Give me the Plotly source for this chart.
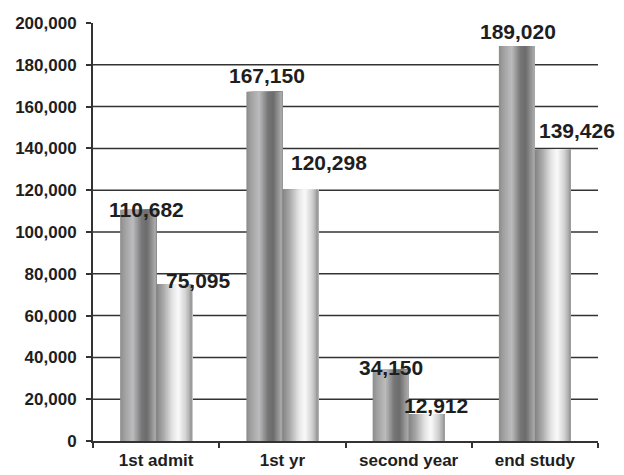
import plotly.graph_objects as go

# ---- data ----
categories = ["1st admit", "1st yr", "second year", "end study"]
series_a = [110682, 167150, 34150, 189020]   # dark cylinders
series_b = [75095, 120298, 12912, 139426]    # light cylinders
y_ticks = [0, 20000, 40000, 60000, 80000, 100000, 120000, 140000, 160000, 180000, 200000]
y_tick_text = [f"{v:,}" for v in y_ticks]

# pixel nudges for the value labels (dx, dy), series a then series b
nudge_a = [(8, -13), (3, 3), (0, -11), (1, 1)]
nudge_b = [(24, -10), (29, 14), (9, -5), (24, 6)]

# ---- styling ----
BAR_W = 0.285          # bar width in category units
STRIPES = 24           # stripes used to fake the cylinder shading
FONT = "Liberation Sans, Arial, sans-serif"
INK = "#1e1e1e"

dark_stops = [(0.0, (140, 140, 140)), (0.12, (160, 160, 160)), (0.35, (188, 188, 190)),
              (0.6, (118, 118, 118)), (0.75, (108, 108, 108)), (0.9, (150, 150, 150)),
              (1.0, (170, 170, 170))]
light_stops = [(0.0, (130, 130, 130)), (0.2, (168, 168, 168)), (0.45, (228, 228, 228)),
               (0.62, (250, 250, 250)), (0.82, (210, 210, 210)), (1.0, (150, 150, 150))]


def shade(stops, t):
    for (p0, c0), (p1, c1) in zip(stops, stops[1:]):
        if p0 <= t <= p1:
            f = (t - p0) / (p1 - p0) if p1 > p0 else 0
            r, g, b = (round(a + (b_ - a) * f) for a, b_ in zip(c0, c1))
            return f"rgb({r},{g},{b})"
    r, g, b = stops[-1][1]
    return f"rgb({r},{g},{b})"


fig = go.Figure()

step = BAR_W / STRIPES
for values, start, stops in [(series_a, -BAR_W, dark_stops), (series_b, 0.0, light_stops)]:
    for k in range(STRIPES):
        t = (k + 0.5) / STRIPES
        fig.add_trace(go.Bar(
            x=categories, y=values,
            offset=start + k * step, width=BAR_W - k * step,
            marker=dict(color=shade(stops, t), line=dict(width=0)),
            showlegend=False, hoverinfo="skip",
        ))

# horizontal grid lines (none at the top of the scale)
for v in y_ticks[1:-1]:
    fig.add_hline(y=v, line=dict(color="#333333", width=1.5), layer="below")

# value labels
for values, centre, nudges in [(series_a, -BAR_W / 2, nudge_a), (series_b, BAR_W / 2, nudge_b)]:
    for i, (v, (dx, dy)) in enumerate(zip(values, nudges)):
        fig.add_annotation(
            x=i + centre, y=v, xref="x", yref="y",
            text=f"{v:,}", showarrow=False,
            xanchor="center", yanchor="bottom",
            xshift=dx, yshift=dy,
            font=dict(family=FONT, size=21, color=INK, weight="bold"),
        )

fig.update_layout(
    width=624, height=475,
    margin=dict(l=93, r=26, t=23, b=34, autoexpand=False),
    paper_bgcolor="white", plot_bgcolor="white",
    barmode="overlay",
    xaxis=dict(
        type="category", range=[-0.5, 3.5],
        showline=True, linecolor="#333333", linewidth=2,
        ticks="outside", tickson="boundaries", ticklen=5, tickwidth=2, tickcolor="#333333",
        showgrid=False, ticklabelstandoff=3,
        tickfont=dict(family=FONT, size=17, color=INK, weight="bold"),
    ),
    yaxis=dict(
        range=[0, 200000], tickvals=y_ticks, ticktext=y_tick_text,
        showline=True, linecolor="#333333", linewidth=2,
        ticks="outside", ticklen=5, tickwidth=2, tickcolor="#333333",
        showgrid=False, zeroline=False, ticklabelstandoff=6,
        tickfont=dict(family=FONT, size=17, color=INK, weight="bold"),
    ),
)

fig.write_html("out.html")
